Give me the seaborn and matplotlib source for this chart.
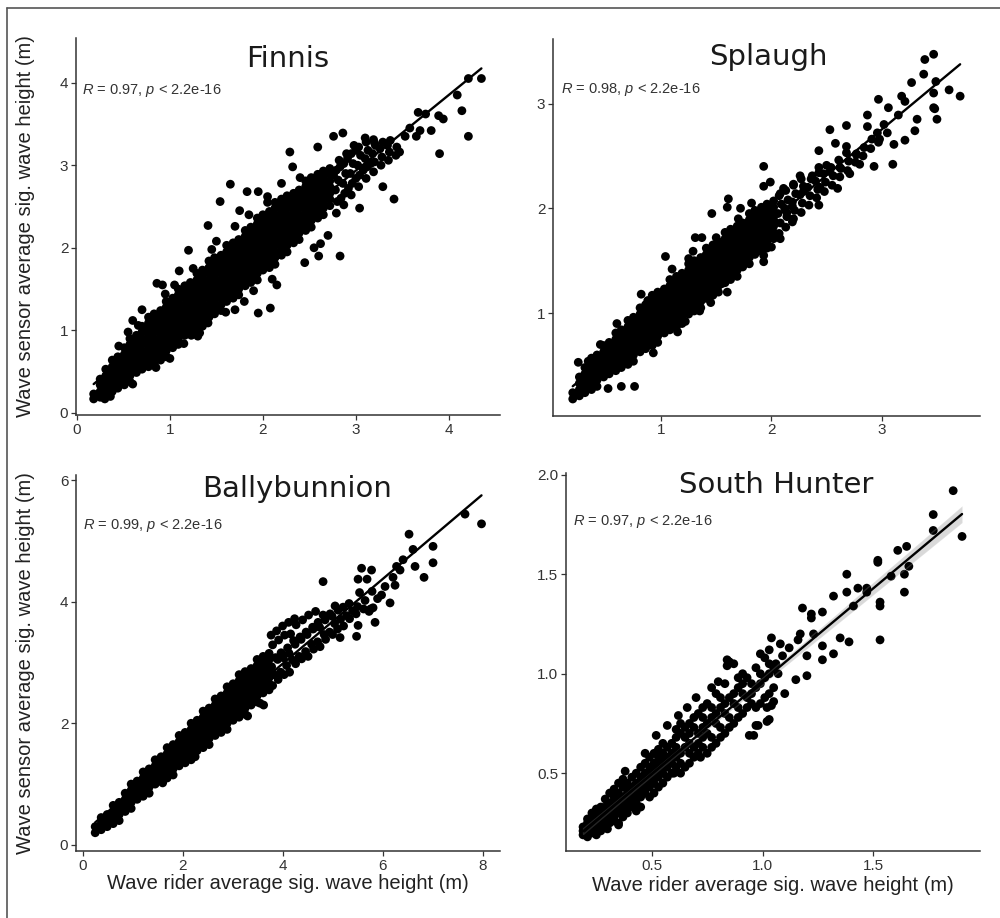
import matplotlib
matplotlib.use("Agg")
import matplotlib.pyplot as plt
from matplotlib.lines import Line2D
from matplotlib.ticker import FormatStrFormatter
import pandas as pd
import seaborn as sns

# ---- data (x = wave rider Hs, y = wave sensor Hs) ----
# dense part of each cloud: rider value -> sensor values seen at that rider value
finnis_core = {
    0.18: [0.17, 0.23],
    0.25: [0.19, 0.26, 0.34, 0.41],
    0.31: [0.23, 0.30, 0.38, 0.45, 0.53],
    0.38: [0.26, 0.34, 0.41, 0.49, 0.56, 0.64],
    0.44: [0.30, 0.38, 0.45, 0.53, 0.60, 0.68],
    0.51: [0.34, 0.41, 0.49, 0.56, 0.64, 0.71, 0.79],
    0.57: [0.38, 0.45, 0.53, 0.60, 0.68, 0.75, 0.83, 0.90],
    0.64: [0.49, 0.56, 0.64, 0.71, 0.79, 0.86, 0.94],
    0.70: [0.53, 0.60, 0.68, 0.75, 0.83, 0.90, 0.98, 1.05],
    0.77: [0.56, 0.64, 0.71, 0.79, 0.86, 0.94, 1.01, 1.09, 1.16],
    0.83: [0.60, 0.68, 0.75, 0.83, 0.90, 0.98, 1.05, 1.13, 1.20],
    0.90: [0.64, 0.71, 0.79, 0.86, 0.94, 1.01, 1.09, 1.16, 1.24],
    0.96: [0.68, 0.75, 0.83, 0.90, 0.98, 1.05, 1.13, 1.20, 1.28, 1.35],
    1.03: [0.79, 0.86, 0.94, 1.01, 1.09, 1.16, 1.24, 1.31, 1.39],
    1.09: [0.83, 0.90, 0.98, 1.05, 1.13, 1.20, 1.28, 1.35, 1.43, 1.50],
    1.16: [0.94, 1.01, 1.09, 1.16, 1.24, 1.31, 1.39, 1.46, 1.54],
    1.22: [0.98, 1.05, 1.13, 1.20, 1.28, 1.35, 1.43, 1.50, 1.58],
    1.29: [1.01, 1.09, 1.16, 1.24, 1.31, 1.39, 1.46, 1.54, 1.61, 1.69],
    1.35: [1.05, 1.13, 1.20, 1.28, 1.35, 1.43, 1.50, 1.58, 1.65, 1.73],
    1.42: [1.16, 1.24, 1.31, 1.39, 1.46, 1.54, 1.61, 1.69, 1.76, 1.84],
    1.48: [1.20, 1.28, 1.35, 1.43, 1.50, 1.58, 1.65, 1.73, 1.80, 1.88],
    1.55: [1.24, 1.31, 1.39, 1.46, 1.54, 1.61, 1.69, 1.76, 1.84, 1.91],
    1.61: [1.35, 1.43, 1.50, 1.58, 1.65, 1.73, 1.80, 1.88, 1.95, 2.03],
    1.68: [1.39, 1.46, 1.54, 1.61, 1.69, 1.76, 1.84, 1.91, 1.99, 2.06],
    1.74: [1.43, 1.50, 1.58, 1.65, 1.73, 1.80, 1.88, 1.95, 2.03, 2.10],
    1.81: [1.54, 1.61, 1.69, 1.76, 1.84, 1.91, 1.99, 2.06, 2.14, 2.21],
    1.87: [1.58, 1.65, 1.73, 1.80, 1.88, 1.95, 2.03, 2.10, 2.18, 2.25],
    1.94: [1.61, 1.69, 1.76, 1.84, 1.91, 1.99, 2.06, 2.14, 2.21, 2.29, 2.36],
    2.00: [1.73, 1.80, 1.88, 1.95, 2.03, 2.10, 2.18, 2.25, 2.33, 2.40],
    2.07: [1.76, 1.84, 1.91, 1.99, 2.06, 2.14, 2.21, 2.29, 2.36, 2.44],
    2.13: [1.80, 1.88, 1.95, 2.03, 2.10, 2.18, 2.25, 2.33, 2.40, 2.48, 2.55],
    2.20: [1.91, 1.99, 2.06, 2.14, 2.21, 2.29, 2.36, 2.44, 2.51, 2.59],
    2.26: [1.95, 2.03, 2.10, 2.18, 2.25, 2.33, 2.40, 2.48, 2.55, 2.63],
    2.33: [2.06, 2.14, 2.21, 2.29, 2.36, 2.44, 2.51, 2.59, 2.66],
    2.39: [2.10, 2.18, 2.25, 2.33, 2.40, 2.48, 2.55, 2.63, 2.70],
    2.46: [2.21, 2.29, 2.36, 2.44, 2.51, 2.59, 2.66, 2.74, 2.81],
    2.52: [2.25, 2.33, 2.40, 2.48, 2.55, 2.63, 2.70, 2.78, 2.85],
    2.59: [2.36, 2.44, 2.51, 2.59, 2.66, 2.74, 2.81, 2.89],
    2.65: [2.40, 2.48, 2.55, 2.63, 2.70, 2.78, 2.85, 2.93],
    2.72: [2.51, 2.59, 2.66, 2.74, 2.81, 2.89, 2.96],
}
finnis_extra = [
    (2.79, 2.42), (2.80, 2.56), (2.78, 2.70), (2.81, 2.82), (2.79, 2.94), (2.82, 3.06),
    (2.87, 2.52), (2.88, 2.66), (2.86, 2.78), (2.89, 2.90), (2.87, 3.02), (2.90, 3.14),
    (2.95, 2.64), (2.96, 2.78), (2.94, 2.90), (2.97, 3.02), (2.95, 3.14), (2.98, 3.24),
    (3.03, 2.74), (3.04, 2.88), (3.02, 3.00), (3.05, 3.12), (3.03, 3.22),
    (3.11, 2.84), (3.12, 2.98), (3.10, 3.08), (3.13, 3.18), (3.11, 3.28),
    (3.19, 2.92), (3.20, 3.04), (3.18, 3.14), (3.21, 3.24), (3.19, 3.31),
    (3.27, 3.00), (3.28, 3.10), (3.26, 3.20), (3.29, 3.28),
    (3.35, 3.06), (3.36, 3.16), (3.34, 3.24), (3.37, 3.30), (3.43, 3.12), (3.44, 3.22),
    (2.84, 2.60), (2.92, 2.72), (3.00, 2.84), (3.08, 2.94), (3.16, 3.02), (2.76, 2.88),
    (2.83, 2.98), (2.91, 3.08), (3.00, 3.18), (3.58, 3.45), (3.75, 3.62),
    (4.35, 4.05), (4.21, 4.05), (4.09, 3.85), (4.14, 3.66), (4.21, 3.35), (3.90, 3.14), (3.89, 3.60), (3.94, 3.56),
    (3.81, 3.42), (3.69, 3.42), (3.65, 3.35), (3.53, 3.35), (3.67, 3.64), (3.47, 3.16), (3.41, 2.59), (3.04, 2.48),
    (3.29, 2.74), (2.86, 3.39), (2.76, 3.35), (2.59, 3.22), (2.29, 3.16), (1.65, 2.77), (1.83, 2.68), (1.95, 2.68),
    (1.54, 2.56), (2.60, 1.90), (2.83, 1.90), (2.62, 2.05), (1.95, 1.21), (2.08, 1.27), (2.15, 1.55), (1.32, 0.97),
    (1.23, 0.94), (1.41, 1.09), (1.20, 1.97), (1.41, 2.27), (3.10, 3.33), (3.20, 3.27), (2.32, 2.98),
    (0.86, 1.57), (0.92, 1.55), (1.10, 1.72), (0.70, 1.25), (0.60, 1.12), (1.75, 2.45), (2.05, 2.62), (2.40, 2.85),
    (2.20, 2.78), (2.45, 1.82), (2.55, 2.00), (2.70, 2.15), (1.70, 1.25), (1.80, 1.35),
    (0.55, 0.98), (0.66, 1.06), (0.95, 1.44), (1.05, 1.55), (1.25, 1.75), (1.45, 1.98), (1.30, 0.93), (1.60, 1.22),
    (1.90, 1.48), (0.85, 0.55), (1.15, 0.84), (0.45, 0.81), (1.50, 2.08), (1.70, 2.26), (2.10, 1.62), (2.05, 2.55),
    (1.85, 2.40), (1.00, 0.66), (0.60, 0.35), (0.36, 0.20), (0.30, 0.17),
]

splaugh_core = {
    0.20: [0.18, 0.24],
    0.26: [0.21, 0.27, 0.33, 0.39],
    0.31: [0.24, 0.30, 0.36, 0.42, 0.48],
    0.37: [0.27, 0.33, 0.39, 0.45, 0.51, 0.57],
    0.42: [0.30, 0.36, 0.42, 0.48, 0.54, 0.60],
    0.48: [0.39, 0.45, 0.51, 0.57, 0.63, 0.69],
    0.53: [0.42, 0.48, 0.54, 0.60, 0.66, 0.72],
    0.59: [0.45, 0.51, 0.57, 0.63, 0.69, 0.75, 0.81],
    0.64: [0.48, 0.54, 0.60, 0.66, 0.72, 0.78, 0.84],
    0.70: [0.51, 0.57, 0.63, 0.69, 0.75, 0.81, 0.87, 0.93],
    0.75: [0.54, 0.60, 0.66, 0.72, 0.78, 0.84, 0.90, 0.96],
    0.81: [0.63, 0.69, 0.75, 0.81, 0.87, 0.93, 0.99, 1.05],
    0.86: [0.66, 0.72, 0.78, 0.84, 0.90, 0.96, 1.02, 1.08],
    0.92: [0.69, 0.75, 0.81, 0.87, 0.93, 0.99, 1.05, 1.11, 1.17],
    0.97: [0.72, 0.78, 0.84, 0.90, 0.96, 1.02, 1.08, 1.14, 1.20],
    1.03: [0.81, 0.87, 0.93, 0.99, 1.05, 1.11, 1.17, 1.23],
    1.08: [0.84, 0.90, 0.96, 1.02, 1.08, 1.14, 1.20, 1.26, 1.32],
    1.14: [0.87, 0.93, 0.99, 1.05, 1.11, 1.17, 1.23, 1.29, 1.35],
    1.19: [0.90, 0.96, 1.02, 1.08, 1.14, 1.20, 1.26, 1.32, 1.38],
    1.25: [0.99, 1.05, 1.11, 1.17, 1.23, 1.29, 1.35, 1.41, 1.47],
    1.30: [1.02, 1.08, 1.14, 1.20, 1.26, 1.32, 1.38, 1.44, 1.50],
    1.36: [1.05, 1.11, 1.17, 1.23, 1.29, 1.35, 1.41, 1.47, 1.53],
    1.41: [1.14, 1.20, 1.26, 1.32, 1.38, 1.44, 1.50, 1.56, 1.62],
    1.47: [1.17, 1.23, 1.29, 1.35, 1.41, 1.47, 1.53, 1.59, 1.65],
    1.52: [1.20, 1.26, 1.32, 1.38, 1.44, 1.50, 1.56, 1.62, 1.68],
    1.58: [1.29, 1.35, 1.41, 1.47, 1.53, 1.59, 1.65, 1.71, 1.77],
    1.63: [1.32, 1.38, 1.44, 1.50, 1.56, 1.62, 1.68, 1.74, 1.80],
    1.69: [1.35, 1.41, 1.47, 1.53, 1.59, 1.65, 1.71, 1.77, 1.83],
    1.74: [1.44, 1.50, 1.56, 1.62, 1.68, 1.74, 1.80, 1.86],
    1.80: [1.47, 1.53, 1.59, 1.65, 1.71, 1.77, 1.83, 1.89, 1.95],
    1.85: [1.56, 1.62, 1.68, 1.74, 1.80, 1.86, 1.92, 1.98],
    1.91: [1.59, 1.65, 1.71, 1.77, 1.83, 1.89, 1.95, 2.01],
    1.96: [1.62, 1.68, 1.74, 1.80, 1.86, 1.92, 1.98, 2.04],
    2.02: [1.71, 1.77, 1.83, 1.89, 1.95, 2.01, 2.07],
}
splaugh_extra = [
    (2.07, 1.76), (2.08, 1.86), (2.06, 1.95), (2.09, 2.04), (2.07, 2.12),
    (2.13, 1.82), (2.14, 1.92), (2.12, 2.00), (2.15, 2.08), (2.13, 2.17),
    (2.20, 1.90), (2.21, 1.98), (2.19, 2.06), (2.22, 2.14), (2.20, 2.22),
    (2.27, 1.96), (2.28, 2.05), (2.26, 2.13), (2.29, 2.21), (2.27, 2.28),
    (2.34, 2.03), (2.35, 2.12), (2.33, 2.20), (2.36, 2.28),
    (2.41, 2.10), (2.42, 2.18), (2.40, 2.26), (2.43, 2.34),
    (2.48, 2.16), (2.49, 2.25), (2.47, 2.33), (2.50, 2.41),
    (2.55, 2.22), (2.56, 2.31), (2.54, 2.39), (2.62, 2.30), (2.63, 2.38), (2.61, 2.46),
    (2.69, 2.36), (2.70, 2.45), (2.68, 2.53), (2.76, 2.44), (2.77, 2.52), (2.83, 2.50),
    (2.84, 2.58), (2.90, 2.57), (2.91, 2.66), (2.98, 2.66), (3.05, 2.72), (3.02, 2.80),
    (3.39, 3.42), (3.47, 3.47), (3.38, 3.28), (3.27, 3.20), (3.49, 3.21), (3.47, 3.10), (3.61, 3.13), (3.71, 3.07),
    (3.47, 2.96), (3.50, 2.85), (3.48, 2.95), (3.30, 2.74), (3.21, 2.65), (3.11, 2.61), (3.10, 2.42), (2.93, 2.40),
    (2.97, 2.63), (2.97, 3.04), (3.18, 3.07), (3.21, 3.02), (3.06, 2.96), (3.15, 2.89), (3.32, 2.85), (2.87, 2.89),
    (2.96, 2.72), (2.87, 2.78), (2.68, 2.79), (2.53, 2.75), (2.58, 2.62), (2.43, 2.55), (2.68, 2.59), (2.77, 2.51),
    (2.80, 2.42), (2.62, 2.39), (2.71, 2.33), (2.53, 2.35), (2.43, 2.39), (2.37, 2.31), (2.44, 2.20), (2.60, 2.19),
    (2.43, 2.03), (2.26, 2.31), (2.20, 2.23), (2.29, 2.16), (2.19, 2.02), (2.19, 1.87), (2.08, 2.14), (2.14, 1.96),
    (1.93, 2.40), (1.99, 2.25), (1.93, 2.21), (2.11, 2.19), (2.08, 1.71), (2.00, 1.63), (1.93, 1.49), (1.93, 1.55),
    (1.78, 1.49), (1.76, 1.55), (1.61, 2.09), (1.60, 2.01), (1.46, 1.95), (1.37, 1.72), (1.31, 1.72), (1.29, 1.59),
    (1.04, 1.54), (1.22, 0.92), (1.35, 1.02), (0.82, 1.18), (0.93, 0.62), (0.76, 0.30), (0.52, 0.28), (0.34, 0.54),
    (0.64, 0.30), (0.60, 0.90), (1.10, 1.42), (1.50, 1.72), (1.70, 1.90), (1.15, 0.82), (1.45, 1.10), (1.60, 1.20),
    (0.25, 0.53), (0.45, 0.70), (0.88, 1.12), (1.25, 1.52), (1.55, 1.28), (1.85, 1.62), (1.72, 2.00), (1.82, 2.05),
]

bally_core = {
    0.25: [0.20, 0.30],
    0.37: [0.25, 0.35, 0.45],
    0.49: [0.30, 0.40, 0.50],
    0.61: [0.35, 0.45, 0.55, 0.65],
    0.73: [0.40, 0.50, 0.60, 0.70],
    0.85: [0.55, 0.65, 0.75, 0.85],
    0.97: [0.60, 0.70, 0.80, 0.90, 1.00],
    1.09: [0.75, 0.85, 0.95, 1.05],
    1.21: [0.80, 0.90, 1.00, 1.10, 1.20],
    1.33: [0.85, 0.95, 1.05, 1.15, 1.25],
    1.45: [1.00, 1.10, 1.20, 1.30, 1.40],
    1.57: [1.05, 1.15, 1.25, 1.35, 1.45],
    1.69: [1.10, 1.20, 1.30, 1.40, 1.50, 1.60],
    1.81: [1.15, 1.25, 1.35, 1.45, 1.55, 1.65],
    1.93: [1.30, 1.40, 1.50, 1.60, 1.70, 1.80],
    2.05: [1.35, 1.45, 1.55, 1.65, 1.75, 1.85],
    2.17: [1.40, 1.50, 1.60, 1.70, 1.80, 1.90, 2.00],
    2.29: [1.55, 1.65, 1.75, 1.85, 1.95, 2.05],
    2.41: [1.60, 1.70, 1.80, 1.90, 2.00, 2.10, 2.20],
    2.53: [1.65, 1.75, 1.85, 1.95, 2.05, 2.15, 2.25],
    2.65: [1.80, 1.90, 2.00, 2.10, 2.20, 2.30, 2.40],
    2.77: [1.85, 1.95, 2.05, 2.15, 2.25, 2.35, 2.45],
    2.89: [1.90, 2.00, 2.10, 2.20, 2.30, 2.40, 2.50, 2.60],
    3.01: [2.05, 2.15, 2.25, 2.35, 2.45, 2.55, 2.65],
    3.13: [2.10, 2.20, 2.30, 2.40, 2.50, 2.60, 2.70, 2.80],
    3.25: [2.15, 2.25, 2.35, 2.45, 2.55, 2.65, 2.75, 2.85],
    3.37: [2.30, 2.40, 2.50, 2.60, 2.70, 2.80, 2.90],
    3.49: [2.35, 2.45, 2.55, 2.65, 2.75, 2.85, 2.95, 3.05],
    3.61: [2.50, 2.60, 2.70, 2.80, 2.90, 3.00, 3.10],
    3.73: [2.55, 2.65, 2.75, 2.85, 2.95, 3.05, 3.15],
}
bally_extra = [
    (3.80, 2.62), (3.83, 2.80), (3.78, 2.93), (3.86, 3.08), (3.80, 3.29), (3.77, 3.45),
    (3.91, 2.72), (3.96, 2.84), (3.90, 3.05), (3.97, 3.16), (3.92, 3.37), (3.88, 3.52),
    (4.03, 2.80), (4.08, 2.95), (4.01, 3.08), (4.10, 3.24), (4.04, 3.45), (4.00, 3.60),
    (4.14, 2.84), (4.20, 3.04), (4.13, 3.15), (4.22, 3.36), (4.16, 3.47), (4.12, 3.66),
    (4.26, 2.98), (4.33, 3.10), (4.25, 3.30), (4.35, 3.42), (4.27, 3.62), (4.24, 3.72),
    (4.38, 3.06), (4.46, 3.18), (4.37, 3.38), (4.47, 3.50), (4.40, 3.70),
    (4.51, 3.10), (4.58, 3.30), (4.49, 3.46), (4.60, 3.58), (4.52, 3.78),
    (4.62, 3.22), (4.70, 3.34), (4.61, 3.55), (4.71, 3.66), (4.66, 3.84),
    (4.75, 3.26), (4.83, 3.46), (4.74, 3.58), (4.81, 3.78),
    (4.86, 3.38), (4.94, 3.50), (4.85, 3.70), (4.95, 3.80),
    (5.00, 3.46), (5.04, 3.64), (4.99, 3.76), (5.10, 3.55), (5.16, 3.71), (5.11, 3.86), (5.15, 3.41),
    (5.22, 3.60), (5.28, 3.77), (5.21, 3.91), (5.34, 3.72), (5.40, 3.85), (5.33, 3.97),
    (5.48, 3.43), (5.51, 3.61), (5.47, 3.80), (5.50, 3.92), (5.54, 4.15),
    (5.62, 3.88), (5.65, 4.02), (5.73, 3.84), (5.76, 3.88), (5.79, 4.17), (5.81, 3.90), (5.85, 3.66),
    (5.58, 4.55), (5.78, 4.52), (5.51, 4.37), (5.69, 4.37), (4.81, 4.33), (5.05, 3.93),
    (5.98, 4.11), (6.15, 3.98), (6.21, 4.40), (6.25, 4.27), (6.28, 4.58), (6.41, 4.69), (6.53, 5.11), (6.61, 4.86),
    (6.65, 4.58), (6.83, 4.40), (7.01, 4.91), (7.01, 4.64), (7.65, 5.44), (7.98, 5.28), (6.05, 4.25), (6.35, 4.52),
    (5.90, 4.05), (3.55, 2.33), (3.62, 2.30), (2.25, 1.45), (1.60, 1.02), (3.30, 2.12),
]

hunter_core = {
    0.19: [0.19, 0.21, 0.23],
    0.21: [0.18, 0.20, 0.23, 0.25, 0.27],
    0.23: [0.20, 0.22, 0.25, 0.28, 0.30],
    0.25: [0.19, 0.21, 0.23, 0.26, 0.28, 0.32],
    0.27: [0.21, 0.23, 0.25, 0.28, 0.30, 0.33],
    0.29: [0.23, 0.26, 0.28, 0.31, 0.33, 0.37],
    0.31: [0.25, 0.28, 0.30, 0.33, 0.35, 0.40],
    0.33: [0.26, 0.28, 0.31, 0.33, 0.36, 0.38, 0.42],
    0.35: [0.25, 0.30, 0.33, 0.35, 0.38, 0.40, 0.45],
    0.37: [0.28, 0.31, 0.33, 0.36, 0.38, 0.43, 0.47],
    0.39: [0.30, 0.33, 0.35, 0.38, 0.40, 0.42, 0.45],
    0.41: [0.33, 0.36, 0.38, 0.41, 0.43, 0.48],
    0.43: [0.31, 0.35, 0.38, 0.40, 0.43, 0.45, 0.50],
    0.45: [0.33, 0.38, 0.41, 0.43, 0.46, 0.48, 0.53],
    0.47: [0.40, 0.43, 0.45, 0.48, 0.50, 0.55],
    0.49: [0.38, 0.43, 0.46, 0.48, 0.51, 0.53, 0.58],
    0.51: [0.40, 0.45, 0.48, 0.50, 0.53, 0.55, 0.60],
    0.53: [0.43, 0.48, 0.51, 0.53, 0.56, 0.58, 0.62],
    0.55: [0.45, 0.50, 0.53, 0.55, 0.58, 0.60, 0.65],
    0.57: [0.48, 0.53, 0.56, 0.58, 0.63],
    0.59: [0.50, 0.55, 0.58, 0.60, 0.65],
    0.61: [0.53, 0.58, 0.61, 0.63, 0.68, 0.72],
    0.63: [0.50, 0.55, 0.60, 0.70, 0.75],
    0.65: [0.53, 0.63, 0.68, 0.73],
    0.67: [0.55, 0.60, 0.65, 0.70, 0.75],
    0.69: [0.58, 0.63, 0.73, 0.78],
    0.71: [0.60, 0.65, 0.70, 0.80],
    0.73: [0.63, 0.68, 0.73, 0.78, 0.83],
    0.75: [0.60, 0.70, 0.75, 0.85],
    0.77: [0.63, 0.68, 0.78, 0.83],
    0.79: [0.65, 0.75, 0.80, 0.90],
    0.81: [0.68, 0.73, 0.83, 0.88],
    0.83: [0.70, 0.80, 0.85, 0.95],
    0.85: [0.73, 0.78, 0.88, 1.06],
    0.87: [0.75, 0.85, 0.90, 1.05],
    0.89: [0.78, 0.83, 0.93, 0.98],
    0.91: [0.80, 0.90, 0.95, 1.00],
    0.93: [0.83, 0.88, 0.98],
    0.95: [0.85, 0.90, 0.95],
    0.97: [0.83, 0.93, 1.03],
    0.99: [0.85, 0.95, 1.00, 1.10],
    1.01: [0.88, 0.98, 1.08],
    1.03: [0.90, 1.00, 1.05],
    1.05: [0.93, 1.03],
}
hunter_extra = [
    (1.86, 1.92), (1.77, 1.80), (1.77, 1.72), (1.90, 1.69), (1.65, 1.64), (1.61, 1.62), (1.66, 1.54), (1.64, 1.50),
    (1.58, 1.49), (1.64, 1.41), (1.52, 1.57), (1.52, 1.56), (1.53, 1.34), (1.53, 1.36), (1.53, 1.17), (1.47, 1.43),
    (1.47, 1.41), (1.43, 1.43), (1.38, 1.50), (1.38, 1.41), (1.41, 1.34), (1.39, 1.16), (1.35, 1.18), (1.32, 1.10),
    (1.32, 1.39), (1.27, 1.31), (1.27, 1.14), (1.27, 1.07), (1.22, 1.30), (1.22, 1.28), (1.23, 1.20), (1.20, 1.09),
    (1.20, 0.99), (1.18, 1.33), (1.17, 1.20), (1.16, 1.17), (1.15, 0.97), (1.10, 0.90), (1.05, 0.86), (1.02, 0.83),
    (1.02, 0.76), (0.97, 0.74), (0.94, 0.69), (1.08, 1.15), (1.04, 1.18), (1.09, 1.09), (1.06, 1.05), (1.07, 1.00),
    (1.12, 1.13), (1.03, 1.12), (0.30, 0.22), (0.35, 0.24), (0.72, 0.58), (0.60, 0.50), (0.84, 1.07), (0.84, 1.04),
    (0.96, 0.69), (0.98, 0.74), (1.03, 0.77), (1.04, 0.84), (0.80, 0.96), (0.77, 0.93), (0.70, 0.88), (0.66, 0.83),
    (0.62, 0.79), (0.57, 0.74), (0.52, 0.69), (0.38, 0.51), (0.47, 0.60),
]

sites = ["Finnis", "Splaugh", "Ballybunnion", "South Hunter"]
r_values = ["0.97", "0.98", "0.99", "0.97"]
p_label = "2.2e-16"
x_ticks = [[0, 1, 2, 3, 4], [1, 2, 3], [0, 2, 4, 6, 8], [0.5, 1.0, 1.5]]
y_ticks = [[0, 1, 2, 3, 4], [1, 2, 3], [0, 2, 4, 6], [0.5, 1.0, 1.5, 2.0]]


def to_frame(core, extra):
    xs, ys = [], []
    for x, col in core.items():
        xs += [x] * len(col)
        ys += col
    for x, y in extra:
        xs.append(x)
        ys.append(y)
    return pd.DataFrame({"rider": xs, "sensor": ys})


frames = [
    to_frame(finnis_core, finnis_extra),
    to_frame(splaugh_core, splaugh_extra),
    to_frame(bally_core, bally_extra),
    to_frame(hunter_core, hunter_extra),
]

# ---- layout (figure fractions) ----
boxes = [
    [0.076, 0.548, 0.424, 0.411],
    [0.553, 0.547, 0.427, 0.411],
    [0.076, 0.073, 0.424, 0.410],
    [0.566, 0.073, 0.414, 0.412],
]
limits = [
    ((-0.01, 4.55), (-0.024, 4.545)),
    ((0.021, 3.89), (0.019, 3.62)),
    ((-0.134, 8.35), (-0.10, 6.09)),
    ((0.113, 1.981), (0.109, 2.01)),
]
title_pos = [(0.50, 0.923), (0.504, 0.931), (0.521, 0.941), (0.507, 0.947)]
stat_pos = [(0.014, 0.851), (0.019, 0.857), (0.017, 0.856), (0.017, 0.862)]
show_ci = [None, None, None, 95]

sns.set_theme(style="ticks")
plt.rcParams["font.family"] = ["Liberation Sans", "DejaVu Sans"]
plt.rcParams["mathtext.fontset"] = "custom"
plt.rcParams["mathtext.rm"] = "Liberation Sans"
plt.rcParams["mathtext.it"] = "Liberation Sans:italic"

ink = "#333333"
fig = plt.figure(figsize=(10, 9.18), dpi=100)

for i, df in enumerate(frames):
    ax = fig.add_axes(boxes[i])
    sns.regplot(
        data=df, x="rider", y="sensor", ax=ax, ci=show_ci[i], seed=3,
        color="black",
        scatter_kws=dict(s=40, alpha=1, linewidths=0, edgecolors="none"),
        line_kws=dict(color="black", lw=1.7),
    )
    ax.set_xlim(*limits[i][0])
    ax.set_ylim(*limits[i][1])
    ax.set_xticks(x_ticks[i])
    ax.set_yticks(y_ticks[i])
    if i == 3:
        ax.xaxis.set_major_formatter(FormatStrFormatter("%.1f"))
        ax.yaxis.set_major_formatter(FormatStrFormatter("%.1f"))
    ax.spines[["top", "right"]].set_visible(False)
    for s in ("left", "bottom"):
        ax.spines[s].set_color(ink)
        ax.spines[s].set_linewidth(1.1)
    ax.tick_params(direction="out", length=3.5, width=0.9, color=ink,
                   labelsize=11, labelcolor=ink, pad=2)

    if i >= 2:
        ax.set_xlabel("Wave rider average sig. wave height (m)", fontsize=14.5, color="#222222")
        ax.xaxis.set_label_coords(0.5, -0.06 if i == 2 else -0.065)
    else:
        ax.set_xlabel("")
    if i % 2 == 0:
        ax.set_ylabel("Wave sensor average sig. wave height (m)", fontsize=14.5, color="#222222")
        ax.yaxis.set_label_coords(-0.097, 0.5)
    else:
        ax.set_ylabel("")

    ax.text(*title_pos[i], sites[i], transform=ax.transAxes, ha="center", va="baseline",
            fontsize=21, color="#1a1a1a", family="DejaVu Sans")
    ax.text(*stat_pos[i], r"$R$ = " + r_values[i] + r", $p$ < " + p_label,
            transform=ax.transAxes, ha="left", va="baseline", fontsize=10.5, color=ink)

# frame lines of the original screenshot
fig.add_artist(Line2D([0.007, 0.007], [0, 1 - 8 / 918], transform=fig.transFigure, color="#555555", lw=1.2))
fig.add_artist(Line2D([0.007, 1], [1 - 8 / 918, 1 - 8 / 918], transform=fig.transFigure, color="#555555", lw=1.2))

fig.savefig("out.png", dpi=100, facecolor="white")
